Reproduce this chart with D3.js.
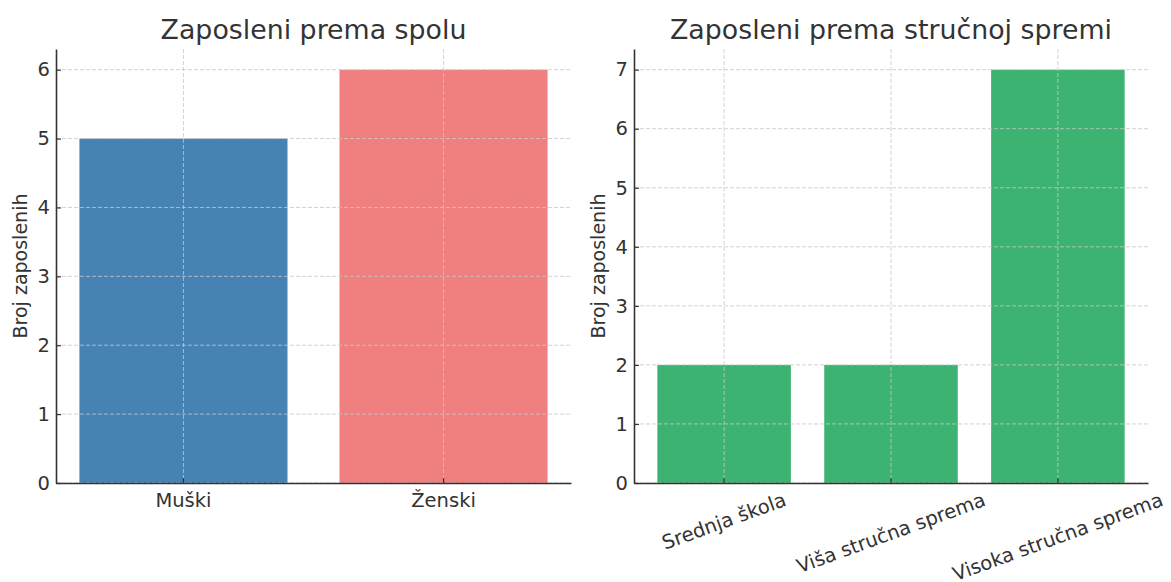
<!DOCTYPE html>
<html>
<head>
<meta charset="utf-8">
<script src="https://cdn.jsdelivr.net/npm/d3@7"></script>
<style>
  body { margin: 0; background: #fff; }
  text { font-family: "DejaVu Sans", sans-serif; fill: #333; }
</style>
</head>
<body>
<svg width="1171" height="582"></svg>
<script>
// data
var spolCategories = ["Muški", "Ženski"];
var spolValues = [5, 6];
var spolColors = ["#4682B4", "#F08080"];

var spremaCategories = ["Srednja škola", "Viša stručna sprema", "Visoka stručna sprema"];
var spremaValues = [2, 2, 7];

var yLabel = "Broj zaposlenih";

var svg = d3.select("svg");

function drawPanel(opts) {
  var g = svg.append("g");
  var left = opts.left, right = opts.right, top = 49, bottom = 483;

  var x = d3.scaleBand()
    .domain(opts.categories)
    .range([left, right])
    .paddingInner(0.2)
    .paddingOuter(opts.outer);

  var y = d3.scaleLinear()
    .domain([0, d3.max(opts.values) * 1.05])
    .range([bottom, top]);

  // bars
  g.selectAll("rect.bar")
    .data(opts.values)
    .enter()
    .append("rect")
    .attr("class", "bar")
    .attr("x", function(d, i){ return x(opts.categories[i]); })
    .attr("y", function(d){ return y(d); })
    .attr("width", x.bandwidth())
    .attr("height", function(d){ return bottom - y(d); })
    .attr("fill", function(d, i){ return opts.colors[i % opts.colors.length]; });

  // grid on top of bars
  var yTicks = d3.range(0, d3.max(opts.values) + 1);
  g.selectAll("line.hgrid")
    .data(yTicks)
    .enter()
    .append("line")
    .attr("x1", left).attr("x2", right)
    .attr("y1", function(d){ return y(d); })
    .attr("y2", function(d){ return y(d); })
    .attr("stroke", "#c8c8c8")
    .attr("stroke-opacity", 0.8)
    .attr("stroke-dasharray", "4,2")
    .attr("stroke-width", 1);

  g.selectAll("line.vgrid")
    .data(opts.categories)
    .enter()
    .append("line")
    .attr("x1", function(d){ return x(d) + x.bandwidth() / 2; })
    .attr("x2", function(d){ return x(d) + x.bandwidth() / 2; })
    .attr("y1", top).attr("y2", bottom)
    .attr("stroke", "#c8c8c8")
    .attr("stroke-opacity", 0.8)
    .attr("stroke-dasharray", "4,2")
    .attr("stroke-width", 1);

  // y axis
  var yAxis = d3.axisLeft(y).tickValues(yTicks).tickFormat(d3.format("d")).tickSizeInner(-5).tickSizeOuter(0).tickPadding(6);
  var ya = g.append("g").attr("transform", "translate(" + left + ",0)").call(yAxis);
  ya.select(".domain").attr("stroke", "#333").attr("stroke-width", 1.6);
  ya.selectAll(".tick line").attr("stroke", "#333").attr("stroke-width", 1.2);
  ya.selectAll(".tick text").style("font-size", "19.5px").style("fill", "#333").attr("font-family", null);

  // x axis
  var xAxis = d3.axisBottom(x).tickSizeInner(-5).tickSizeOuter(0).tickPadding(10);
  var xa = g.append("g").attr("transform", "translate(0," + bottom + ")").call(xAxis);
  xa.select(".domain").attr("stroke", "#333").attr("stroke-width", 1.6);
  xa.selectAll(".tick line").attr("stroke", "#333").attr("stroke-width", 1.2);
  xa.selectAll(".tick text").style("font-size", "19.5px").style("fill", "#333").attr("font-family", null);

  if (opts.rotate) {
    xa.selectAll(".tick text").each(function(){
      var t = d3.select(this);
      var w = this.getComputedTextLength();
      var h = 21.5;
      var a = 20 * Math.PI / 180;
      var vext = w * Math.sin(a) + h * Math.cos(a);
      var cy = 6 + vext / 2;
      t.attr("y", null).attr("dy", null)
        .attr("dominant-baseline", "central")
        .attr("text-anchor", "middle")
        .attr("transform", "translate(0," + cy + ") rotate(-20)");
    });
  }

  // title
  svg.append("text")
    .attr("x", (left + right) / 2)
    .attr("y", 39)
    .attr("text-anchor", "middle")
    .style("font-size", "26.8px")
    .text(opts.title);

  // y label
  svg.append("text")
    .attr("transform", "translate(" + opts.labelX + "," + (top + bottom) / 2 + ") rotate(-90)")
    .attr("text-anchor", "middle")
    .style("font-size", "19px")
    .text(yLabel);
}

drawPanel({
  categories: spolCategories, values: spolValues, colors: spolColors,
  left: 56, right: 571, outer: 0.09, title: "Zaposleni prema spolu", labelX: 27
});

drawPanel({
  categories: spremaCategories, values: spremaValues, colors: ["#3CB371"],
  left: 634, right: 1148, outer: 0.14, title: "Zaposleni prema stručnoj spremi", labelX: 605, rotate: true
});
</script>
</body>
</html>
